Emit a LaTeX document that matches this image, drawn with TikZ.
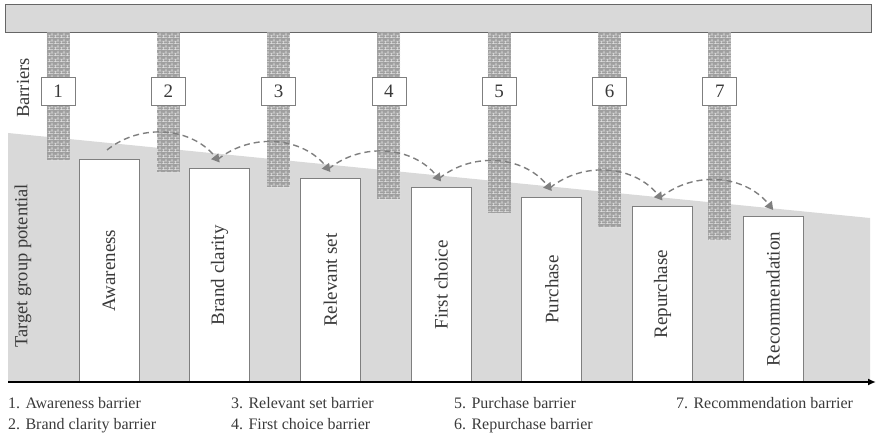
\documentclass[tikz,border=0pt]{standalone}
\usepackage{fontspec}
\setmainfont{Liberation Serif}
\usetikzlibrary{arrows.meta,patterns}

\definecolor{areagray}{HTML}{D9D9D9}
\definecolor{edgegray}{HTML}{7F7F7F}
\definecolor{textgray}{HTML}{3A3A3A}

% small bricks for the barrier pillars
\pgfdeclarepatternformonly{smallbricks}{\pgfpointorigin}{\pgfpoint{6pt}{6pt}}{\pgfpoint{6pt}{6pt}}{
  \pgfsetlinewidth{0.7pt}
  \pgfpathmoveto{\pgfpoint{0pt}{0.35pt}}\pgfpathlineto{\pgfpoint{6pt}{0.35pt}}
  \pgfpathmoveto{\pgfpoint{0pt}{3.35pt}}\pgfpathlineto{\pgfpoint{6pt}{3.35pt}}
  \pgfpathmoveto{\pgfpoint{1.5pt}{0.35pt}}\pgfpathlineto{\pgfpoint{1.5pt}{3.35pt}}
  \pgfpathmoveto{\pgfpoint{4.5pt}{3.35pt}}\pgfpathlineto{\pgfpoint{4.5pt}{6pt}}
  \pgfusepath{stroke}
}

\tikzset{
  pillar/.style={draw=none,inner sep=0pt,minimum width=23pt,anchor=north,
    preaction={fill=gray!75},pattern=smallbricks,pattern color=gray!20},
  numbox/.style={draw=edgegray,fill=white,line width=0.8pt,minimum width=34pt,
    minimum height=28pt,inner sep=0pt,font=\fontsize{19}{22}\selectfont},
  bar/.style={draw=edgegray,fill=white,line width=1pt,rotate=90,anchor=west,
    minimum height=60pt,inner sep=0pt,font=\fontsize{19}{22}\selectfont},
  hop/.style={draw=edgegray,line width=1.4pt,dash pattern=on 6pt off 4pt,
    -{Triangle[width=9pt,length=8pt]},bend left=45},
  legend/.style={anchor=base west,inner sep=0pt,font=\fontsize{16}{19}\selectfont},
  side/.style={rotate=90,inner sep=0pt,font=\fontsize{18.5}{22}\selectfont}
}

\begin{document}
\begin{tikzpicture}[x=1pt,y=1pt,text=textgray]
  \useasboundingbox (0,0) rectangle (876,434);

  % target group potential
  \fill[areagray] (8,52) -- (8,301) -- (870,216) -- (870,52) -- cycle;

  % top beam
  \node[draw=gray!80!black,fill=areagray,line width=0.8pt,minimum width=866pt,
    minimum height=28pt,inner sep=0pt] (beam) at (438,416) {};

  % barrier pillars
  \node[pillar,minimum height=128pt] (p1) at (58,402) {};
  \node[pillar,minimum height=140pt] (p2) at (168.3,402) {};
  \node[pillar,minimum height=155pt] (p3) at (278.6,402) {};
  \node[pillar,minimum height=167pt] (p4) at (388.9,402) {};
  \node[pillar,minimum height=181pt] (p5) at (499.2,402) {};
  \node[pillar,minimum height=195pt] (p6) at (609.5,402) {};
  \node[pillar,minimum height=208pt] (p7) at (719.8,402) {};

  \node[numbox] (n1) at (58,343) {1};
  \node[numbox] (n2) at (168.3,343) {2};
  \node[numbox] (n3) at (278.6,343) {3};
  \node[numbox] (n4) at (388.9,343) {4};
  \node[numbox] (n5) at (499.2,343) {5};
  \node[numbox] (n6) at (609.5,343) {6};
  \node[numbox] (n7) at (719.8,343) {7};

  % stages
  \node[bar,minimum width=222pt] (awareness) at (109,52) {Awareness};
  \node[bar,minimum width=212.5pt] (clarity) at (219.7,52) {Brand clarity};
  \node[bar,minimum width=203pt] (relevant) at (330.4,52) {Relevant set};
  \node[bar,minimum width=193.5pt] (choice) at (441.1,52) {First choice};
  \node[bar,minimum width=184pt] (purchase) at (551.8,52) {Purchase};
  \node[bar,minimum width=174.5pt] (repurchase) at (662.5,52) {Repurchase};
  \node[bar,minimum width=165pt] (recommend) at (773.2,52) {Recommendation};

  \draw[hop] ([xshift=-2pt,yshift=9pt]awareness.east) to ([yshift=6pt]clarity.east);
  \draw[hop] ([xshift=-2pt,yshift=9pt]clarity.east) to ([yshift=6pt]relevant.east);
  \draw[hop] ([xshift=-2pt,yshift=9pt]relevant.east) to ([yshift=6pt]choice.east);
  \draw[hop] ([xshift=-2pt,yshift=9pt]choice.east) to ([yshift=6pt]purchase.east);
  \draw[hop] ([xshift=-2pt,yshift=9pt]purchase.east) to ([yshift=6pt]repurchase.east);
  \draw[hop] ([xshift=-2pt,yshift=9pt]repurchase.east) to ([yshift=6pt]recommend.east);

  % axis
  \coordinate (origin) at (8,52);
  \coordinate (axisend) at (876,52);
  \draw[line width=2pt,-{Latex[length=8pt,width=7pt]}] (origin) -- (axisend);

  \node[side] (barriers) at (23,346) {Barriers};
  \node[side] (potential) at (23,168) {Target group potential};

  % legend
  \node[legend] (l1) at (8,25) {1. Awareness barrier};
  \node[legend] (l2) at (8,5) {2. Brand clarity barrier};
  \node[legend] (l3) at (231,25) {3. Relevant set barrier};
  \node[legend] (l4) at (231,5) {4. First choice barrier};
  \node[legend] (l5) at (454,25) {5. Purchase barrier};
  \node[legend] (l6) at (454,5) {6. Repurchase barrier};
  \node[legend] (l7) at (676,25) {7. Recommendation barrier};
\end{tikzpicture}
\end{document}
